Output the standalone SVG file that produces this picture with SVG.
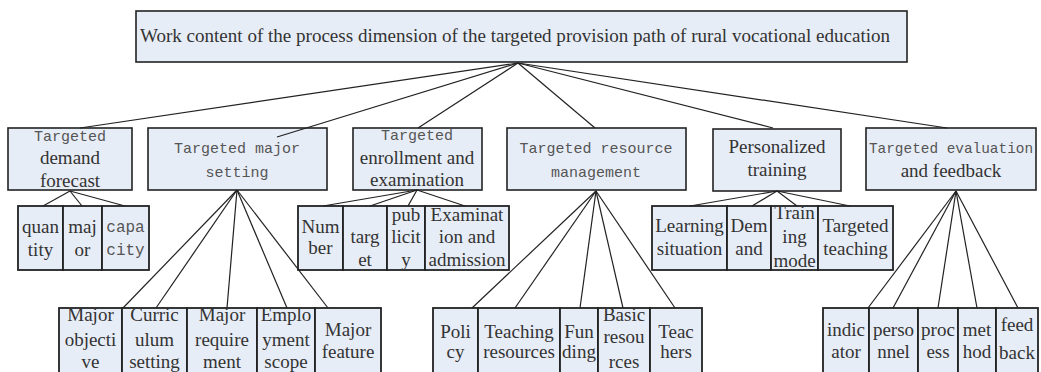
<svg xmlns="http://www.w3.org/2000/svg" width="1041" height="372" viewBox="0 0 1041 372">
<style>
.box{fill:#e7edf7;stroke:#222;stroke-width:1.6}
.cell{fill:#e7edf7;stroke:#222;stroke-width:1.8}
.s{font-family:"Liberation Serif","Times New Roman",serif;font-size:19px;fill:#333;text-anchor:middle}
.m{font-family:"Liberation Mono","Courier New",monospace;font-size:15px;fill:#555;text-anchor:middle}
.t{font-family:"Liberation Serif","Times New Roman",serif;font-size:19px;fill:#333}
#connectors line{stroke:#222;stroke-width:1.2}
</style>
<rect width="1041" height="372" fill="#fff"/>
<g id="root">
<rect class="box" x="136" y="11" width="771" height="51"/>
<text class="t" x="140" y="42" textLength="750" lengthAdjust="spacingAndGlyphs">Work content of the process dimension of the targeted provision path of rural vocational education</text>
</g>
<g id="n-demand">
<rect class="box" x="8" y="128" width="124" height="62"/>
<text class="m" x="70" y="141">Targeted</text>
<text class="s" x="70" y="164">demand</text>
<text class="s" x="70" y="187">forecast</text>
</g>
<g id="n-major">
<rect class="box" x="148" y="128" width="179" height="62"/>
<text class="m" x="237" y="153">Targeted major</text>
<text class="m" x="237" y="177">setting</text>
</g>
<g id="n-enroll">
<rect class="box" x="353" y="128" width="129" height="62"/>
<text class="m" x="417" y="140">Targeted</text>
<text class="s" x="417" y="164">enrollment and</text>
<text class="s" x="417" y="186">examination</text>
</g>
<g id="n-resource">
<rect class="box" x="507" y="128" width="179" height="62"/>
<text class="m" x="596" y="153">Targeted resource</text>
<text class="m" x="596" y="177">management</text>
</g>
<g id="n-personal">
<rect class="box" x="713" y="129" width="128" height="62"/>
<text class="s" x="777" y="153">Personalized</text>
<text class="s" x="777" y="176">training</text>
</g>
<g id="n-eval">
<rect class="box" x="866" y="128" width="170" height="62"/>
<text class="m" x="951" y="153" style="font-size:14.4px">Targeted evaluation</text>
<text class="s" x="951" y="177">and feedback</text>
</g>
<g id="n-quantity"><rect class="cell" x="18" y="206" width="45" height="64"/><text class="s" x="40.5" y="233">quan</text><text class="s" x="40.5" y="256">tity</text></g>
<g id="n-major2"><rect class="cell" x="63" y="206" width="39" height="64"/><text class="s" x="82.5" y="233">maj</text><text class="s" x="82.5" y="256">or</text></g>
<g id="n-capacity"><rect class="cell" x="102" y="206" width="47" height="64"/><text class="m" x="125.5" y="232" style="font-size:16px">capa</text><text class="m" x="125.5" y="255" style="font-size:16px">city</text></g>
<g id="n-number"><rect class="cell" x="298" y="206" width="45" height="64"/><text class="s" x="320.5" y="233">Num</text><text class="s" x="320.5" y="254">ber</text></g>
<g id="n-target"><rect class="cell" x="343" y="206" width="44" height="64"/><text class="s" x="365" y="243">targ</text><text class="s" x="365" y="266">et</text></g>
<g id="n-publicity"><rect class="cell" x="387" y="206" width="38" height="64"/><text class="s" x="406" y="221">pub</text><text class="s" x="406" y="243">licit</text><text class="s" x="406" y="266">y</text></g>
<g id="n-exam"><rect class="cell" x="425" y="206" width="84" height="64"/><text class="s" x="467" y="221">Examinat</text><text class="s" x="467" y="243">ion and</text><text class="s" x="467" y="266">admission</text></g>
<g id="n-learning"><rect class="cell" x="652" y="206" width="75" height="64"/><text class="s" x="689.5" y="232">Learning</text><text class="s" x="689.5" y="255">situation</text></g>
<g id="n-demand2"><rect class="cell" x="727" y="206" width="44" height="64"/><text class="s" x="749" y="232">Dem</text><text class="s" x="749" y="255">and</text></g>
<g id="n-trainmode"><rect class="cell" x="771" y="206" width="47" height="64"/><text class="s" x="794.5" y="219">Train</text><text class="s" x="794.5" y="243">ing</text><text class="s" x="794.5" y="267">mode</text></g>
<g id="n-teaching"><rect class="cell" x="818" y="206" width="75" height="64"/><text class="s" x="855.5" y="232">Targeted</text><text class="s" x="855.5" y="255">teaching</text></g>
<g id="n-objective"><rect class="cell" x="59" y="308" width="63" height="80"/><text class="s" x="90.5" y="321">Major</text><text class="s" x="90.5" y="346">objecti</text><text class="s" x="90.5" y="368">ve</text></g>
<g id="n-curriculum"><rect class="cell" x="122" y="308" width="65" height="80"/><text class="s" x="154.5" y="321">Curric</text><text class="s" x="154.5" y="346">ulum</text><text class="s" x="154.5" y="368">setting</text></g>
<g id="n-requirement"><rect class="cell" x="187" y="308" width="70" height="80"/><text class="s" x="222" y="321">Major</text><text class="s" x="222" y="346">require</text><text class="s" x="222" y="368">ment</text></g>
<g id="n-employment"><rect class="cell" x="257" y="308" width="58" height="80"/><text class="s" x="286" y="321">Emplo</text><text class="s" x="286" y="346">yment</text><text class="s" x="286" y="368">scope</text></g>
<g id="n-feature"><rect class="cell" x="315" y="308" width="66" height="80"/><text class="s" x="348" y="336">Major</text><text class="s" x="348" y="358">feature</text></g>
<g id="n-policy"><rect class="cell" x="433" y="308" width="45" height="80"/><text class="s" x="455.5" y="338">Poli</text><text class="s" x="455.5" y="358">cy</text></g>
<g id="n-teachres"><rect class="cell" x="478" y="308" width="82" height="80"/><text class="s" x="519" y="338">Teaching</text><text class="s" x="519" y="358">resources</text></g>
<g id="n-funding"><rect class="cell" x="560" y="308" width="38" height="80"/><text class="s" x="579" y="338">Fun</text><text class="s" x="579" y="358">ding</text></g>
<g id="n-basic"><rect class="cell" x="598" y="308" width="52" height="80"/><text class="s" x="624" y="321">Basic</text><text class="s" x="624" y="343">resou</text><text class="s" x="624" y="368">rces</text></g>
<g id="n-teachers"><rect class="cell" x="650" y="308" width="52" height="80"/><text class="s" x="676" y="338">Teac</text><text class="s" x="676" y="358">hers</text></g>
<g id="n-indicator"><rect class="cell" x="823" y="308" width="46" height="80"/><text class="s" x="846" y="336">indic</text><text class="s" x="846" y="358">ator</text></g>
<g id="n-personnel"><rect class="cell" x="869" y="308" width="49" height="80"/><text class="s" x="893.5" y="336">perso</text><text class="s" x="893.5" y="358">nnel</text></g>
<g id="n-process"><rect class="cell" x="918" y="308" width="40" height="80"/><text class="s" x="938" y="336">proc</text><text class="s" x="938" y="358">ess</text></g>
<g id="n-method"><rect class="cell" x="958" y="308" width="38" height="80"/><text class="s" x="977" y="336">met</text><text class="s" x="977" y="358">hod</text></g>
<g id="n-feedback"><rect class="cell" x="996" y="308" width="42" height="80"/><text class="s" x="1017" y="331">feed</text><text class="s" x="1017" y="359">back</text></g>
<g id="connectors">
<line x1="518" y1="63" x2="80" y2="128"/>
<line x1="518" y1="63" x2="277" y2="137"/>
<line x1="518" y1="63" x2="418" y2="128"/>
<line x1="518" y1="63" x2="595" y2="128"/>
<line x1="518" y1="63" x2="773" y2="128"/>
<line x1="518" y1="63" x2="947" y2="128"/>
<line x1="70" y1="191" x2="43" y2="206"/>
<line x1="70" y1="191" x2="82" y2="206"/>
<line x1="70" y1="191" x2="125" y2="206"/>
<line x1="237" y1="190" x2="123" y2="308"/>
<line x1="237" y1="190" x2="156" y2="308"/>
<line x1="237" y1="190" x2="227" y2="308"/>
<line x1="237" y1="190" x2="287" y2="308"/>
<line x1="237" y1="190" x2="328" y2="308"/>
<line x1="417" y1="190" x2="323" y2="206"/>
<line x1="417" y1="190" x2="370" y2="206"/>
<line x1="417" y1="190" x2="408" y2="206"/>
<line x1="417" y1="190" x2="465" y2="206"/>
<line x1="596" y1="191" x2="472" y2="308"/>
<line x1="596" y1="191" x2="515" y2="308"/>
<line x1="596" y1="191" x2="580" y2="308"/>
<line x1="596" y1="191" x2="623" y2="308"/>
<line x1="596" y1="191" x2="675" y2="308"/>
<line x1="777" y1="191" x2="690" y2="206"/>
<line x1="777" y1="191" x2="752" y2="206"/>
<line x1="777" y1="191" x2="797" y2="206"/>
<line x1="777" y1="191" x2="850" y2="206"/>
<line x1="956" y1="191" x2="868" y2="308"/>
<line x1="956" y1="191" x2="893" y2="308"/>
<line x1="956" y1="191" x2="938" y2="308"/>
<line x1="956" y1="191" x2="977" y2="308"/>
<line x1="956" y1="191" x2="1018" y2="308"/>
</g>
</svg>
